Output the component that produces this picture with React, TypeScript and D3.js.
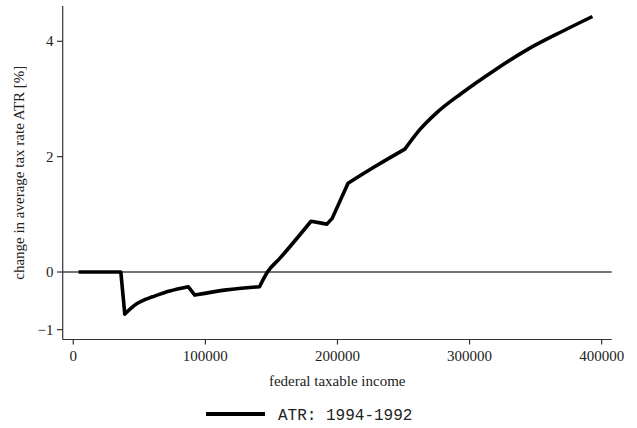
import React from "react";
import * as d3 from "d3";

const incomes = [4000, 36000, 39000, 44000, 48000, 54000, 60000, 73000, 87000, 92000, 116000, 141000, 147000, 156500, 180000, 192000, 196000, 208000, 230000, 251000, 262000, 275000, 294000, 319000, 344000, 370000, 393000];
const atrChange = [0, 0, -0.73, -0.62, -0.55, -0.48, -0.43, -0.33, -0.255, -0.4, -0.31, -0.255, 0, 0.24, 0.88, 0.83, 0.93, 1.54, 1.85, 2.13, 2.46, 2.76, 3.1, 3.5, 3.86, 4.17, 4.43];
// incomes where the curve has a kink (segment breaks)
const kinkIncomes = [36000, 39000, 87000, 92000, 141000, 180000, 192000, 196000, 208000, 251000];
const xTicks = [0, 100000, 200000, 300000, 400000];
const yTicks = [-1, 0, 2, 4];
const xTitle = "federal taxable income";
const yTitle = "change in average tax rate ATR [%]";
const legendLabel = "ATR: 1994-1992";

const W = 637;
const H = 428;
const left = 62.7;
const right = 611.7;
const top = 6;
const bottom = 339.5;

export default function App() {
  const x = d3.scaleLinear().domain([-8000, 407600]).range([left, right]);
  const y = d3.scaleLinear().domain([-1.17, 4.612]).range([bottom, top]);
  const data = incomes.map((v, i) => [v, atrChange[i]] as [number, number]);
  const line = d3
    .line<[number, number]>()
    .x((d) => x(d[0]))
    .y((d) => y(d[1]))
    .curve(d3.curveMonotoneX);

  const segments: [number, number][][] = [];
  let cur: [number, number][] = [];
  data.forEach((d, i) => {
    cur.push(d);
    if (kinkIncomes.includes(d[0]) && i > 0 && i < data.length - 1) {
      segments.push(cur);
      cur = [d];
    }
  });
  if (cur.length > 1) segments.push(cur);
  const pathD = segments
    .map((s, i) => {
      const p = line(s) || "";
      return i === 0 ? p : p.replace(/^M/, "L");
    })
    .join("");

  const serif = "'Liberation Serif', 'Times New Roman', serif";
  const axisColor = "#333";
  return (
    <svg
      width={W}
      height={H}
      style={{ position: "absolute", left: 0, top: 0, background: "#fff" }}
    >
      <rect x={0} y={0} width={W} height={H} fill="#fff" />
      <line x1={left} x2={right} y1={y(0)} y2={y(0)} stroke="#444" strokeWidth={1.3} />
      <line x1={left} x2={left} y1={top} y2={bottom} stroke={axisColor} strokeWidth={1.2} />
      <line x1={left} x2={right} y1={bottom} y2={bottom} stroke={axisColor} strokeWidth={1.2} />
      {yTicks.map((t) => (
        <g key={"y" + t}>
          <line x1={left - 5.7} x2={left} y1={y(t)} y2={y(t)} stroke={axisColor} strokeWidth={1.2} />
          <text
            x={53.5}
            y={y(t)}
            dy="0.34em"
            textAnchor="end"
            fontFamily={serif}
            fontSize={15}
            fill="#222"
          >
            {t < 0 ? "\u2212" + Math.abs(t) : String(t)}
          </text>
        </g>
      ))}
      {xTicks.map((t) => (
        <g key={"x" + t}>
          <line x1={x(t)} x2={x(t)} y1={bottom} y2={bottom + 5} stroke={axisColor} strokeWidth={1.2} />
          <text
            x={x(t)}
            y={360.7}
            textAnchor="middle"
            fontFamily={serif}
            fontSize={15}
            fill="#222"
          >
            {String(t)}
          </text>
        </g>
      ))}
      <text
        x={(left + right) / 2}
        y={386}
        textAnchor="middle"
        fontFamily={serif}
        fontSize={15}
        fill="#222"
      >
        {xTitle}
      </text>
      <text
        transform={`translate(24, ${(top + bottom) / 2}) rotate(-90)`}
        textAnchor="middle"
        fontFamily={serif}
        fontSize={15}
        fill="#222"
      >
        {yTitle}
      </text>
      <path d={pathD} fill="none" stroke="#000" strokeWidth={3.6} strokeLinejoin="round" />
      <line x1={206} x2={265} y1={414} y2={414} stroke="#000" strokeWidth={3.8} />
      <text
        x={278}
        y={420}
        fontFamily="'Liberation Mono', 'Courier New', monospace"
        fontSize={16}
        fill="#222"
      >
        {legendLabel}
      </text>
    </svg>
  );
}
